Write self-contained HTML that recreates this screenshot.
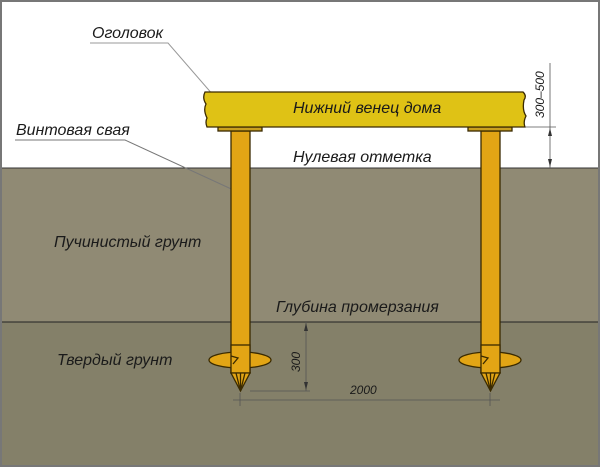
<!DOCTYPE html>
<html><head><meta charset="utf-8"><style>
html,body{margin:0;padding:0;width:600px;height:467px;overflow:hidden;background:#fff}
text{font-family:"Liberation Sans","DejaVu Sans",sans-serif;font-style:italic;fill:#1a1a1a}
</style></head><body>
<svg width="600" height="467" viewBox="0 0 600 467" xmlns="http://www.w3.org/2000/svg">
<rect x="0" y="0" width="600" height="467" fill="#fff"/>
<rect x="0" y="168" width="600" height="154" fill="#908a74"/>
<rect x="0" y="322" width="600" height="145" fill="#848069"/>
<line x1="0" y1="168" x2="600" y2="168" stroke="#333" stroke-width="1"/>
<line x1="0" y1="322" x2="600" y2="322" stroke="#222" stroke-width="1"/>
<rect x="1" y="1" width="598" height="465" fill="none" stroke="#777" stroke-width="2"/>

<!-- leaders -->
<polyline points="90,43 168,43 240,126" fill="none" stroke="#999" stroke-width="1"/>
<polyline points="15,140 125,140 240,193" fill="none" stroke="#777" stroke-width="1"/>

<!-- piles -->
<g stroke="#3a2a00" stroke-width="1.3" fill="#e2a515">
<rect x="231" y="131" width="19" height="242"/>
<rect x="481" y="131" width="19" height="242"/>
<ellipse cx="240" cy="360" rx="31" ry="8"/>
<ellipse cx="490" cy="360" rx="31" ry="8"/>
<rect x="231" y="345" width="19" height="28"/>
<rect x="481" y="345" width="19" height="28"/>
<path d="M231 373 L250 373 L240.5 391 Z"/>
<path d="M481 373 L500 373 L490.5 391 Z"/>
<path d="M240.5 373 L240.5 391 M236 373 L240.5 391 M245 373 L240.5 391" fill="none"/>
<path d="M490.5 373 L490.5 391 M486 373 L490.5 391 M495 373 L490.5 391" fill="none"/>
<path d="M231 356 L238 358 L233 364" fill="none"/>
<path d="M481 356 L488 358 L483 364" fill="none"/>
<rect x="218" y="127" width="44" height="4" fill="#c9a020"/>
<rect x="468" y="127" width="44" height="4" fill="#c9a020"/>
</g>

<!-- beam -->
<path d="M205 92 L523 92 Q527 96 524 100 Q522 110 526 116 Q523 122 525 127 L207 127 Q205 122 207 118 Q203 110 206 104 Q202 98 205 92 Z" fill="#dfc215" stroke="#3a2a00" stroke-width="1.3"/>
<text x="293" y="113" font-size="16">Нижний венец дома</text>

<!-- dims -->
<g stroke="#555" stroke-width="0.8" fill="none">
<line x1="550" y1="63" x2="550" y2="168"/>
<line x1="525" y1="127" x2="556" y2="127"/>
<line x1="250" y1="391" x2="310" y2="391"/>
<line x1="306" y1="322" x2="306" y2="391"/>
<line x1="233" y1="400" x2="500" y2="400"/>
<line x1="240" y1="393" x2="240" y2="406"/>
<line x1="490" y1="393" x2="490" y2="406"/>
</g>
<g fill="#333">
<path d="M550 128 l-2 8 h4 z"/><path d="M550 167 l-2 -8 h4 z"/>
<path d="M306 323 l-2 8 h4 z"/><path d="M306 390 l-2 -8 h4 z"/>
</g>
<text font-size="12" transform="translate(544,118) rotate(-90)">300–500</text>
<text font-size="12" transform="translate(300,372) rotate(-90)">300</text>
<text x="350" y="394" font-size="12">2000</text>

<text x="92" y="38" font-size="16">Оголовок</text>
<text x="16" y="135" font-size="16">Винтовая свая</text>
<text x="293" y="162" font-size="16">Нулевая отметка</text>
<text x="54" y="247" font-size="16">Пучинистый грунт</text>
<text x="276" y="312" font-size="16">Глубина промерзания</text>
<text x="57" y="365" font-size="16">Твердый грунт</text>
</svg>
</body></html>
